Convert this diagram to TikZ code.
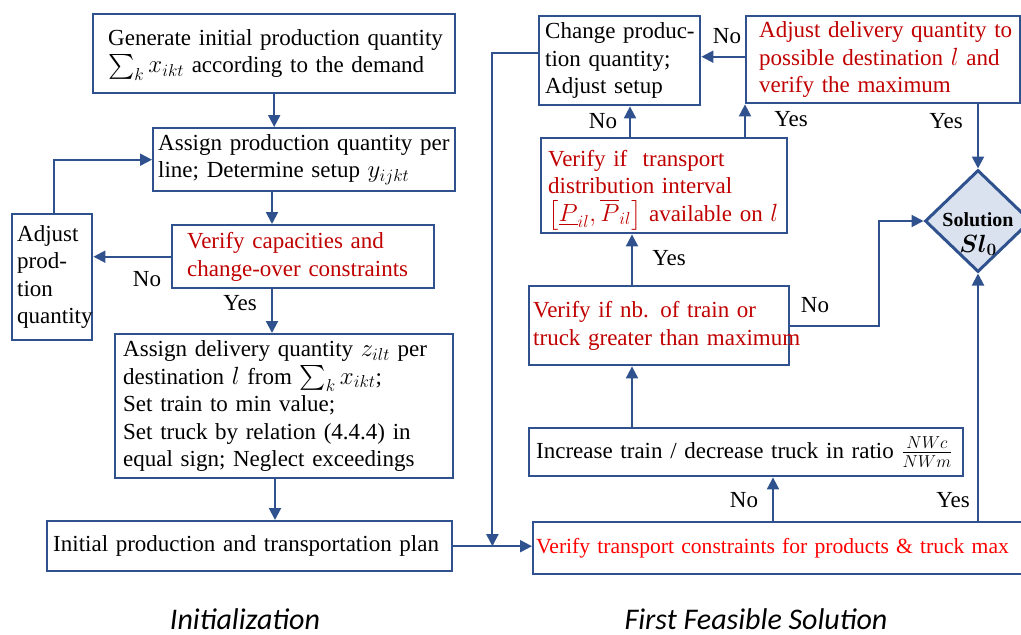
\documentclass[tikz,border=0pt]{standalone}
\usepackage{amsmath}
\usepackage{bm}
\usepackage{fontspec}
\setmainfont{Liberation Serif}
\newfontfamily\capfont{Carlito}
\usetikzlibrary{arrows.meta,shapes.geometric,calc}
\definecolor{bblue}{RGB}{47,82,143}
\definecolor{dred}{RGB}{192,0,0}
\definecolor{bred}{RGB}{255,0,0}
\definecolor{dfill}{RGB}{218,226,240}
\newcommand\oneln[1]{\mbox{#1}}
\begin{document}
\begin{tikzpicture}[x=1pt,y=-1pt,
  box/.style={draw=bblue, line width=2.4pt, anchor=north west, align=left,
    inner ysep=2pt, font=\fontsize{23}{27.5}\selectfont},
  arr/.style={draw=bblue, line width=2pt, -{Triangle[length=12pt,width=12pt]}},
  lbl/.style={font=\fontsize{23}{27.5}\selectfont, inner sep=0pt},
  capt/.style={font=\capfont\itshape\fontsize{30}{36}\selectfont, anchor=base, inner sep=0pt}
]
\clip (0,0) rectangle (1021,635);

% ---------- Initialization ----------
\node[box, minimum width=362pt, minimum height=79pt, inner xsep=15pt, text width=332pt] (b1) at (92,13)
  {\oneln{Generate initial production quantity}\\\oneln{\smash{$\sum_k x_{ikt}$} according to the demand}};
\node[box, minimum width=302pt, minimum height=63pt, inner xsep=5pt, text width=292pt] (b2) at (152,127)
  {\oneln{Assign production quantity per}\\\oneln{line; Determine setup $y_{ijkt}$}};
\node[box, text=dred, minimum width=262pt, minimum height=63pt, inner xsep=15pt, text width=232pt] (b4) at (171,224)
  {\oneln{Verify capacities and}\\\oneln{change-over constraints}};
\node[box, minimum width=80pt, minimum height=126pt, inner xsep=5pt, text width=70pt] (adj) at (11,213)
  {Adjust\\prod-\\tion\\\oneln{quantity}};
\node[box, minimum width=338pt, minimum height=144pt, inner xsep=8pt, text width=322pt] (b5) at (114,333)
  {\oneln{Assign delivery quantity $z_{ilt}$ per}\\\oneln{destination $l$ from \smash{$\sum_k x_{ikt}$};}\\\oneln{Set train to min value;}\\\oneln{Set truck by relation (4.4.4) in}\\\oneln{equal sign; Neglect exceedings}};
\node[box, minimum width=405pt, minimum height=50pt, inner xsep=6pt, text width=393pt] (b6) at (46,520)
  {\oneln{Initial production and transportation plan}};

% ---------- First feasible solution ----------
\node[box, minimum width=161pt, minimum height=89pt, inner xsep=6pt, text width=149pt] (b7) at (538,15)
  {\oneln{Change produc-}\\\oneln{tion quantity;}\\\oneln{Adjust setup}};
\node[box, text=dred, minimum width=274pt, minimum height=87pt, inner xsep=13pt, text width=248pt] (b8) at (745,15)
  {\oneln{Adjust delivery quantity to}\\\oneln{possible destination $l$ and}\\\oneln{verify the maximum}};
\node[box, text=dred, minimum width=246pt, minimum height=95pt, inner xsep=7pt, text width=232pt] (b9) at (540,137)
  {\oneln{Verify if\ \ transport}\\\oneln{distribution interval}\\\oneln{\smash{$\bigl[\underline{P}_{il},\overline{P}_{il}\bigr]$} available on $l$}};
\node[box, text=dred, minimum width=260pt, minimum height=79pt, inner xsep=4pt, text width=252pt] (b10) at (528,285)
  {\oneln{Verify if nb. of train or}\\\oneln{truck greater than maximum}};
\node[box, minimum width=434pt, minimum height=48pt, inner xsep=7pt, text width=420pt] (b11) at (528,427)
  {\oneln{Increase train / decrease truck in ratio $\frac{NWc}{NWm}$}};
\node[box, text=bred, font=\fontsize{21.6}{26}\selectfont, minimum width=510pt, minimum height=52pt, inner xsep=3pt, text width=504pt] (b12) at (532,521)
  {\oneln{Verify transport constraints for products \& truck max}};

\node[diamond, draw=bblue, line width=3pt, fill=dfill, minimum width=106pt, minimum height=102pt, inner sep=0pt,
  label={[font=\fontsize{20}{26}\selectfont, align=center, yshift=-13pt]center:{\textbf{Solution}\\{\fontsize{26}{26}\selectfont$\bm{Sl_0}$}}}] (d) at (978,221) {};

% ---------- connectors (left) ----------
\draw[arr] (b1.south) -- (b1.south |- b2.north);
\draw[arr] ([xshift=120pt]b2.south west) -- ([xshift=101pt]b4.north west);
\draw[arr] ([xshift=101pt]b4.south west) -- ([xshift=158pt]b5.north west);
\draw[arr] ([xshift=161pt]b5.south west) -- ([xshift=229pt]b6.north west);
\draw[arr] (b4.west) -- (b4.west -| adj.east);
\draw[arr] ([xshift=2pt]adj.north) |- (b2.west);

% ---------- connectors (right) ----------
\coordinate (j) at ([xshift=39pt]b6.east);
\draw[arr] (b6.east) -- (b6.east -| b12.west);
\coordinate (p7) at ([yshift=7.5pt]b7.west);
\draw[arr] (p7) -| (j);
\coordinate (p8) at ([yshift=3pt]b8.west);
\draw[arr] (p8) -- (p8 -| b7.east);
\coordinate (q1) at ([xshift=90pt]b9.north west);
\draw[arr] (q1) -- (q1 |- b7.south);
\coordinate (q2) at ([xshift=205pt]b9.north west);
\draw[arr] (q2) -- (q2 |- b8.south);
\draw[arr] (b8.south -| d.north) -- (d.north);
\coordinate (q3) at ([xshift=104pt]b10.north west);
\draw[arr] (q3) -- (q3 |- b9.south);
\coordinate (kd) at ([xshift=-45pt]d.west);
\draw[arr] (b10.east) -| (kd) -- (d.west);
\coordinate (q4) at ([xshift=104pt]b11.north west);
\draw[arr] (q4) -- (q4 |- b10.south);
\coordinate (q5) at ([xshift=241pt]b12.north west);
\draw[arr] (q5) -- (q5 |- b11.south);
\draw[arr] (b12.north -| d.south) -- (d.south);

% ---------- labels ----------
\node[lbl] (l1) at (147,279) {No};
\node[lbl] (l2) at (240,303) {Yes};
\node[lbl] (l3) at (727,36) {No};
\node[lbl] (l4) at (603,121) {No};
\node[lbl] (l5) at (791,119) {Yes};
\node[lbl] (l6) at (946,121) {Yes};
\node[lbl] (l7) at (669,258) {Yes};
\node[lbl] (l8) at (815,305) {No};
\node[lbl] (l9) at (744,500) {No};
\node[lbl] (l10) at (953,500) {Yes};

\node[capt] (c1) at (245,629) {Initialization};
\node[capt] (c2) at (756,629) {First Feasible Solution};
\end{tikzpicture}
\end{document}
